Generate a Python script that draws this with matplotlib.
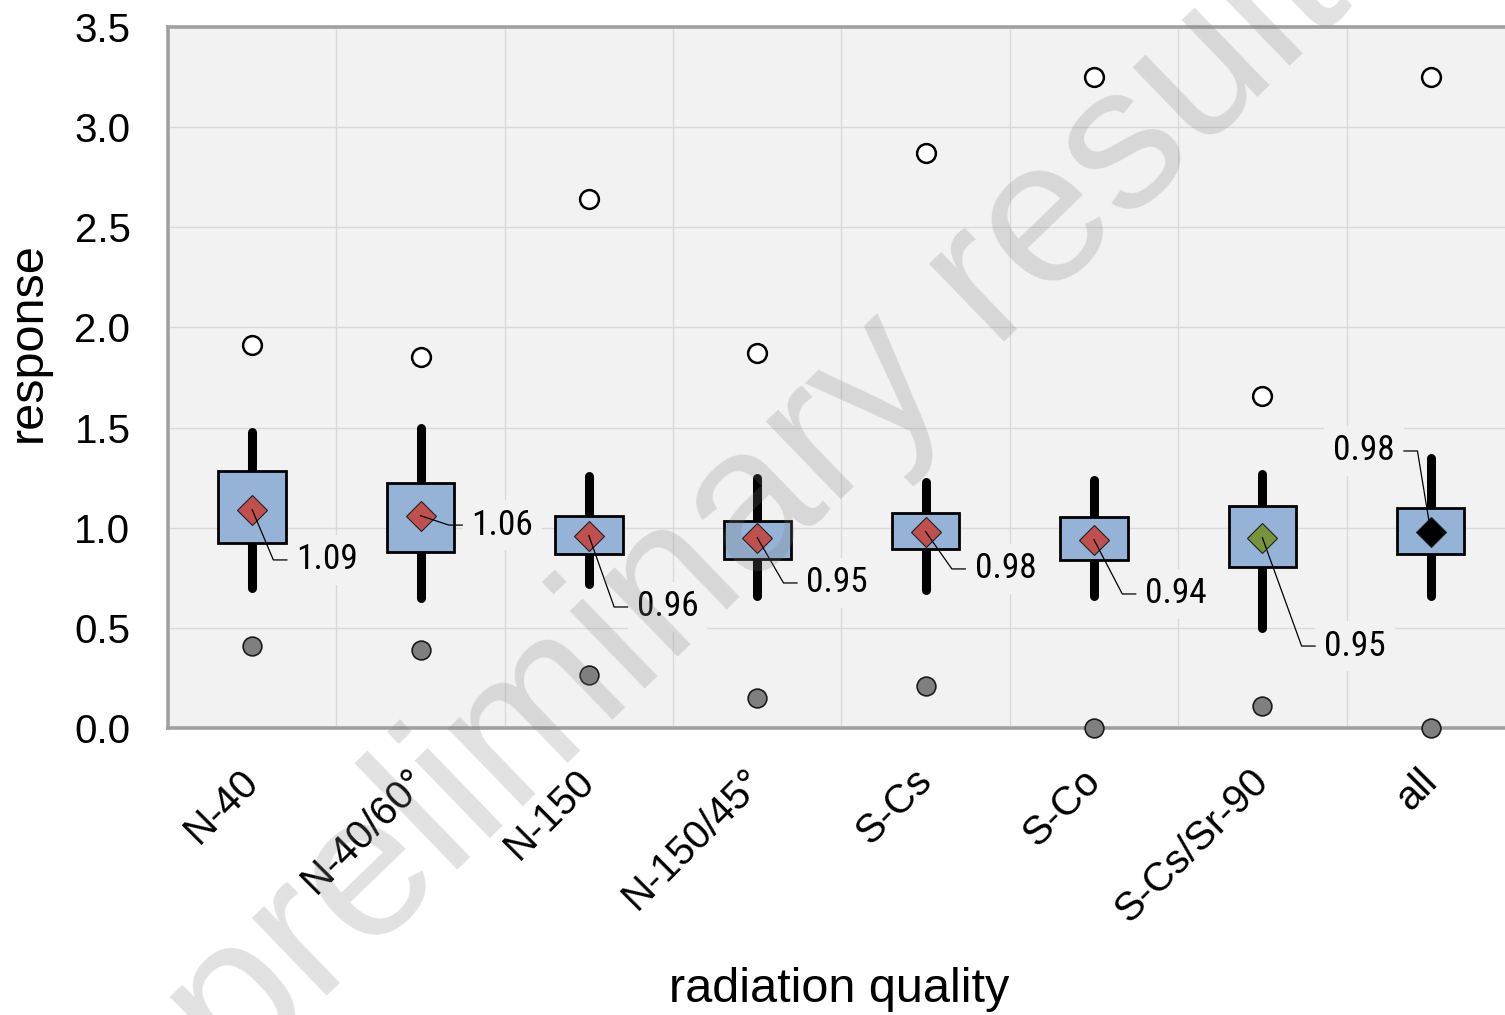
import matplotlib.pyplot as plt
from matplotlib import font_manager
from matplotlib.patches import Rectangle

# response summary per radiation quality
categories = ["N-40", "N-40/60°", "N-150", "N-150/45°", "S-Cs", "S-Co", "S-Cs/Sr-90", "all"]
whisker_low = [0.70, 0.65, 0.72, 0.66, 0.69, 0.66, 0.50, 0.66]
q1 = [0.924, 0.879, 0.869, 0.844, 0.894, 0.839, 0.804, 0.869]
q3 = [1.283, 1.223, 1.058, 1.033, 1.073, 1.053, 1.108, 1.098]
whisker_high = [1.48, 1.50, 1.26, 1.25, 1.23, 1.24, 1.27, 1.35]
means = [1.09, 1.06, 0.96, 0.95, 0.98, 0.94, 0.95, 0.98]
max_vals = [1.91, 1.85, 2.64, 1.87, 2.87, 3.25, 1.66, 3.25]
min_vals = [0.41, 0.39, 0.265, 0.15, 0.21, 0.0, 0.11, 0.0]

mean_colors = ["#c0504d"] * 6 + ["#77933c", "#000000"]
# label placement: horizontal offset from the category (negative = left side), label height
label_dx = [0.261, 0.303, 0.285, 0.291, 0.291, 0.303, 0.368, -0.214]
label_y = [0.839, 1.013, 0.604, 0.724, 0.794, 0.669, 0.409, 1.383]

BOX_FILL = "#95b3d7"
PLOT_BG = "#f2f2f2"


def narrow_font():
    """Pick a condensed sans face for the value labels if one is installed."""
    wanted = ["Liberation Sans Narrow", "Arial Narrow", "Roboto Condensed",
              "DejaVu Sans Condensed", "Open Sans Condensed"]
    fonts = font_manager.fontManager.ttflist
    for name in wanted:
        for f in fonts:
            if f.name == name and f.style == "normal" and f.weight in (400, "normal"):
                return font_manager.FontProperties(fname=f.fname, size=25.5)
    for f in fonts:
        if "condensed" in str(f.stretch) and f.style == "normal" and "Sans" in f.name \
                and f.weight in (400, "normal"):
            return font_manager.FontProperties(fname=f.fname, size=25.5)
    return font_manager.FontProperties(family="Liberation Sans", size=24)


label_font = narrow_font()

fig = plt.figure(figsize=(15.05, 10.15), dpi=100, facecolor="white")
ax = fig.add_axes([0.1116, 0.2828, 0.895, 0.6906])
ax.set_facecolor(PLOT_BG)

xs = range(len(categories))
box_w = 0.40
for i in xs:
    ax.plot([i, i], [whisker_low[i], whisker_high[i]], color="black", lw=6.5,
            solid_capstyle="round", zorder=2)
    ax.add_patch(Rectangle((i - box_w / 2, q1[i]), box_w, q3[i] - q1[i],
                           facecolor=BOX_FILL, edgecolor="black", lw=2.0, zorder=3))
    ax.plot(i, means[i], marker="D", ms=15.5, mfc=mean_colors[i], mec="#202020",
            mew=0.8, zorder=4)
    ax.plot(i, max_vals[i], marker="o", ms=13.5, mfc="white", mec="black", mew=1.8,
            clip_on=False, zorder=6)
    ax.plot(i, min_vals[i], marker="o", ms=13.5, mfc="#7f7f7f", mec="#1a1a1a", mew=1.2,
            clip_on=False, zorder=6)

    # leader line and value label
    d = label_dx[i]
    s = 1 if d > 0 else -1
    d = abs(d)
    ax.plot([i, i + s * (d - 0.135), i + s * (d - 0.055)],
            [means[i], label_y[i], label_y[i]], color="black", lw=0.9, zorder=5)
    ax.text(i + s * d, label_y[i], f"{means[i]:.2f}", ha="left" if s > 0 else "right",
            va="center", fontproperties=label_font, color="black", zorder=1.5,
            bbox=dict(boxstyle="square,pad=0.25", facecolor=PLOT_BG, edgecolor="none"))

ax.set_xlim(-0.5, len(categories) - 0.5)
ax.set_ylim(0, 3.5)
ax.set_yticks([0, 0.5, 1.0, 1.5, 2.0, 2.5, 3.0, 3.5])
ax.set_yticklabels([f"{v:.1f}" for v in ax.get_yticks()], family="Liberation Sans",
                   fontsize=29)
ax.set_xticks(list(xs))
ax.set_xticklabels(categories, rotation=45, ha="right", va="center",
                   rotation_mode="anchor", family="Liberation Sans", fontsize=29)
ax.set_xticks([i + 0.5 for i in range(len(categories) - 1)], minor=True)
ax.tick_params(axis="y", length=0, pad=27)
ax.tick_params(axis="x", which="both", length=0, pad=34)

ax.grid(True, which="minor", axis="x", color="#d9d9d9", lw=1.0, zorder=0)
ax.grid(True, which="major", axis="y", color="#d9d9d9", lw=1.0, zorder=0)
ax.set_axisbelow(True)
for spine in ax.spines.values():
    spine.set_color("#a0a0a0")
    spine.set_linewidth(2.6)

fig.text(839 / 1505, 1 - 990 / 1015, "radiation quality", ha="center", va="center",
         fontsize=35, family="Liberation Sans")
fig.text(28 / 1505, 1 - 342 / 1015, "response", ha="center", va="center", rotation=90,
         fontsize=35, family="Liberation Sans")

fig.text(0.528, 0.537, "preliminary results", ha="center", va="center", rotation=44,
         rotation_mode="anchor", fontsize=147, family="Liberation Sans",
         color="#7f7f7f", alpha=0.23, zorder=10)

fig.savefig("out.png", dpi=100, facecolor="white")
